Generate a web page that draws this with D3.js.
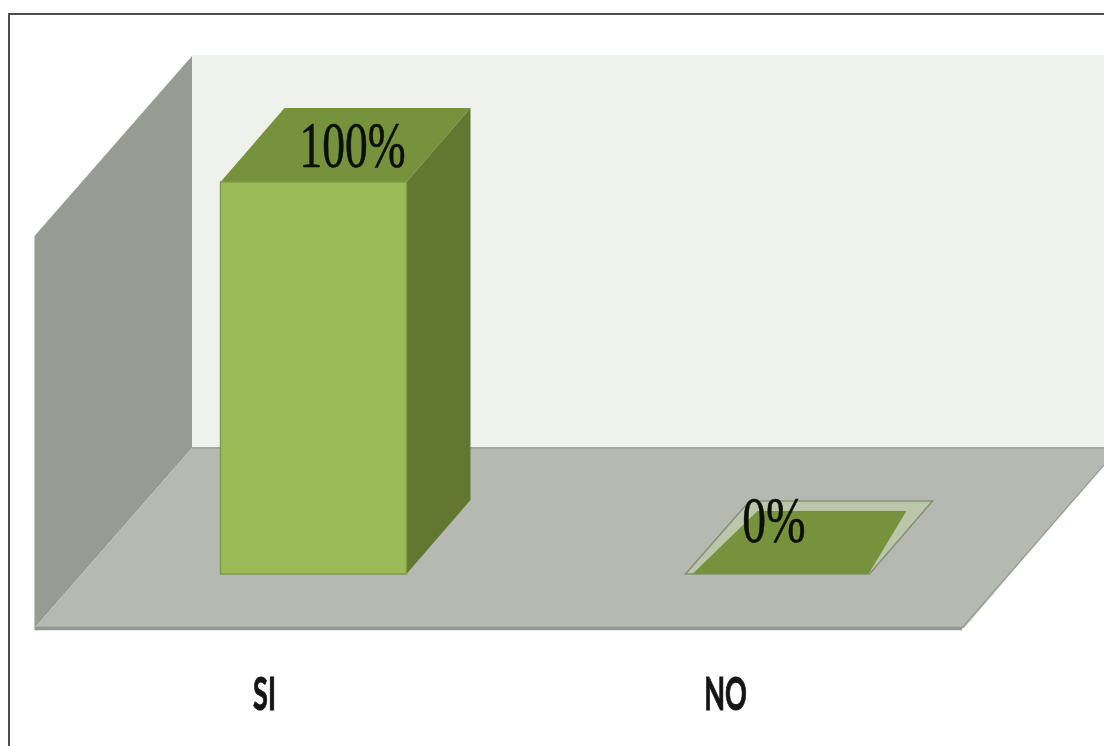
<!DOCTYPE html>
<html><head><meta charset="utf-8">
<script src="https://cdn.jsdelivr.net/npm/d3@7"></script>
<style>html,body{margin:0;padding:0;background:#fff;overflow:hidden}svg{display:block;filter:blur(0.55px)}</style>
</head><body><svg id="c" width="1104" height="746"></svg>
<script>
const categories = ["SI", "NO"];
const percentValues = [100, 0];
const valueLabels = ["100%", "0%"];

const W = 1104, H = 746;
const svg = d3.select("#c");
const depthX = 64, depthY = 74;
const x = d3.scaleBand().domain(categories).range([81, 1011]).paddingInner(0.6).paddingOuter(0.3);
const y = d3.scaleLinear().domain([0, 100]).range([574, 182]);
const line = d3.line();
const poly = (pts, fill, extra = {}) => {
  const p = svg.append("path").attr("d", line(pts) + "Z").attr("fill", fill);
  Object.entries(extra).forEach(([k, v]) => p.attr(k, v));
  return p;
};

// frame
svg.append("rect").attr("x", 9).attr("y", 14).attr("width", W + 20).attr("height", H + 20)
  .attr("fill", "#fff").attr("stroke", "#4d4d4d").attr("stroke-width", 2);

// walls and floor
poly([[192, 55], [W, 55], [W, 448], [192, 448]], "#eff2ec");
poly([[34.5, 236], [192, 56], [192, 448], [34.5, 628]], "#989a94");
poly([[34.5, 628], [192, 448], [W, 448], [W, 465], [964, 628]], "#b6b9b1");
svg.append("line").attr("x1", 192).attr("x2", W).attr("y1", 448).attr("y2", 448).attr("stroke", "#a3a69d").attr("stroke-width", 2);
svg.append("line").attr("x1", 34.5).attr("x2", 962).attr("y1", 628.5).attr("y2", 628.5).attr("stroke", "#949691").attr("stroke-width", 3.5);
svg.append("line").attr("x1", 962).attr("x2", W).attr("y1", 628).attr("y2", 465).attr("stroke", "#9a9c95").attr("stroke-width", 1.2);

// bars
categories.forEach((c, i) => {
  const x0 = x(c), x1 = x0 + x.bandwidth(), base = y(0), top = y(percentValues[i]);
  if (percentValues[i] > 0) {
    poly([[x0, top], [x1, top], [x1 + depthX, top - depthY], [x0 + depthX, top - depthY]], "#76923c");
    poly([[x1, top], [x1 + depthX, top - depthY], [x1 + depthX, base - depthY], [x1, base]], "#62772f");
    poly([[x0, top], [x1, top], [x1, base], [x0, base]], "#9bbb59", { stroke: "#7f9c44", "stroke-width": 1.4 });
  } else {
    poly([[x0, base], [x1 - 2, base], [x1 + depthX - 3, base - depthY + 1], [x0 + depthX, base - depthY + 1]], "#bcc6ab", { stroke: "#87917a", "stroke-width": 1.6 });
    poly([[x0 + 7, base], [x1 - 3, base], [x1 + 35, base - 63], [x0 + 72, base - 63]], "#76923c");
  }
});

// value labels
const labelPos = [[352.5, 167, 0.7, 65], [774, 541.5, 0.72, 66]];
valueLabels.forEach((t, i) => {
  const [lx, ly, sx, fs] = labelPos[i];
  svg.append("text").attr("transform", `translate(${lx},${ly}) scale(${sx},1)`)
    .attr("text-anchor", "middle").attr("font-family", "Liberation Serif").attr("font-size", fs)
    .attr("fill", "#0c0f08").attr("stroke", "#0c0f08").attr("stroke-width", 0.6).text(t);
});

// category labels
const tickShift = [-3, -7];
categories.forEach((c, i) => {
  svg.append("text").attr("transform", `translate(${x(c) + x.bandwidth() / 2 - 46 + tickShift[i]},710) scale(0.82,1.39)`)
    .attr("text-anchor", "middle").attr("font-family", "Lato").attr("font-weight", 700).attr("font-size", 33)
    .attr("fill", "#141414").attr("stroke", "#141414").attr("stroke-width", 0.7).text(c);
});
</script></body></html>
